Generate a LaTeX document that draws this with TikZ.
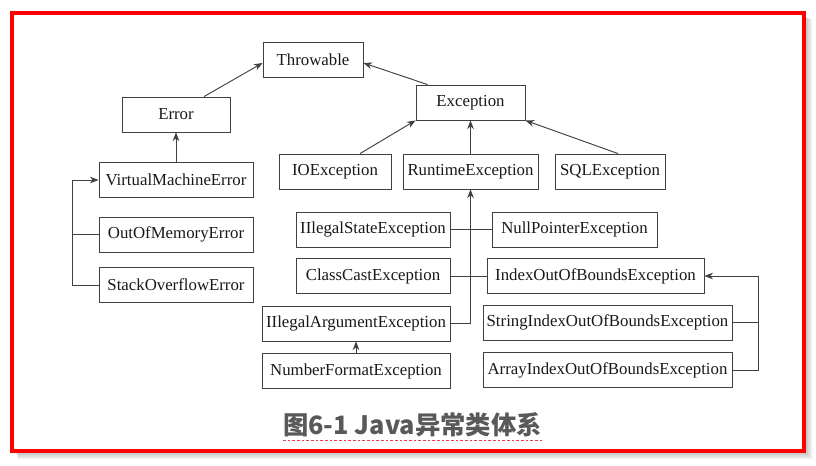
\documentclass[tikz,border=0pt]{standalone}
\usepackage{fontspec}
\setmainfont{Liberation Serif}
\newfontfamily\cjk{Noto Sans CJK SC}
\usetikzlibrary{arrows.meta, positioning, calc}
\definecolor{framered}{HTML}{FF0000}
\definecolor{linegray}{HTML}{404040}
\definecolor{capgray}{HTML}{595959}
\definecolor{dashred}{HTML}{F23A55}

\begin{document}
\begin{tikzpicture}[
	x=0.75pt, y=-0.75pt,
	every node/.style={font=\fontsize{12.6}{15}\selectfont, text=black!90},
	cls/.style={rectangle, draw=linegray, line width=0.65pt, fill=white, minimum height=26.25pt, inner sep=2pt},
	bw/.style={minimum width=#1*0.75pt},
	arrow/.style={-{Stealth[length=6.5pt, width=5pt]}, draw=linegray, line width=0.7pt},
	link/.style={draw=linegray, line width=0.7pt}
]
\useasboundingbox (0,0) rectangle (816,465);

% frame with shadow
\foreach \d in {2,4,6,8} {
	\fill[black, opacity=0.07] (14+\d*0.5,15+\d*0.5) rectangle (804+\d,451+\d);
}
\fill[white] (12,13) rectangle (803.7,450.7);
\draw[framered, line width=3pt] (12,13) rectangle (803.7,450.7);

% top level classes
\node[cls, bw=100] (thr) at (313,59.5) {Throwable};
\node[cls, bw=108] (err) at (176,114.5) {Error};
\node[cls, bw=109] (exc) at (470.5,102.5) {Exception};

% Error subclasses
\node[cls, bw=154] (vme) at (176,180) {VirtualMachineError};
\node[cls, bw=154, below=14pt of vme] (oom) {OutOfMemoryError};
\node[cls, bw=154, below=11pt of oom] (soe) {StackOverflowError};

% Exception subclasses
\node[cls, bw=112] (ioe) at (335,171.5) {IOException};
\node[cls, bw=135] (rte) at (470.5,171.5) {RuntimeException};
\node[cls, bw=110] (sqe) at (610,171.5) {SQLException};

% RuntimeException subclasses
\node[cls, bw=154] (ise) at (373,229.5) {IIlegalStateException};
\node[cls, bw=165] (npe) at (574.5,229.5) {NullPointerException};
\node[cls, bw=154] (cce) at (373,276) {ClassCastException};
\node[cls, bw=217] (iob) at (595.5,276) {IndexOutOfBoundsException};
\node[cls, bw=188] (iae) at (356,323.5) {IIlegalArgumentException};
\node[cls, bw=188, below=9pt of iae] (nfe) {NumberFormatException};
\node[cls, bw=249] (sie) at (607.5,322.5) {StringIndexOutOfBoundsException};
\node[cls, bw=249, below=9pt of sie] (aie) {ArrayIndexOutOfBoundsException};

% inheritance arrows
\draw[arrow] ([xshift=21pt]err.north) -- ([yshift=-2.6pt]thr.west);
\draw[arrow] ([xshift=9pt]exc.north west) -- ([yshift=-2.6pt]thr.east);
\draw[arrow] (vme.north) -- (err.south);
\draw[arrow] ([xshift=18.75pt]ioe.north) -- (exc.south west);
\draw[arrow] (rte.north) -- (exc.south);
\draw[arrow] ([xshift=6pt]sqe.north) -- (exc.south east);

% VirtualMachineError branch
\draw[arrow] (soe.west) -- ++(-26,0) |- (vme.west);
\draw[link] (oom.west) -- ++(-26,0);

% RuntimeException branch
\draw[arrow] (iae.east) -| (rte.south);
\draw[link] (ise.east) -- (npe.west);
\draw[link] (cce.east) -- (iob.west);
\draw[arrow] (nfe.north) -- (iae.south);

% IndexOutOfBoundsException branch
\draw[arrow] (aie.east) -- ++(26,0) |- (iob.east);
\draw[link] (sie.east) -- ++(26,0);

% caption
\node[font=\cjk\bfseries\fontsize{19}{22}\selectfont, text=capgray, inner xsep=0pt, inner ysep=2pt] (cap) at (412.5,425) {图6-1 Java异常类体系};
\draw[dashred, line width=0.6pt, dash pattern=on 2pt off 1.5pt] (cap.south west) -- (cap.south east);

\end{tikzpicture}
\end{document}
